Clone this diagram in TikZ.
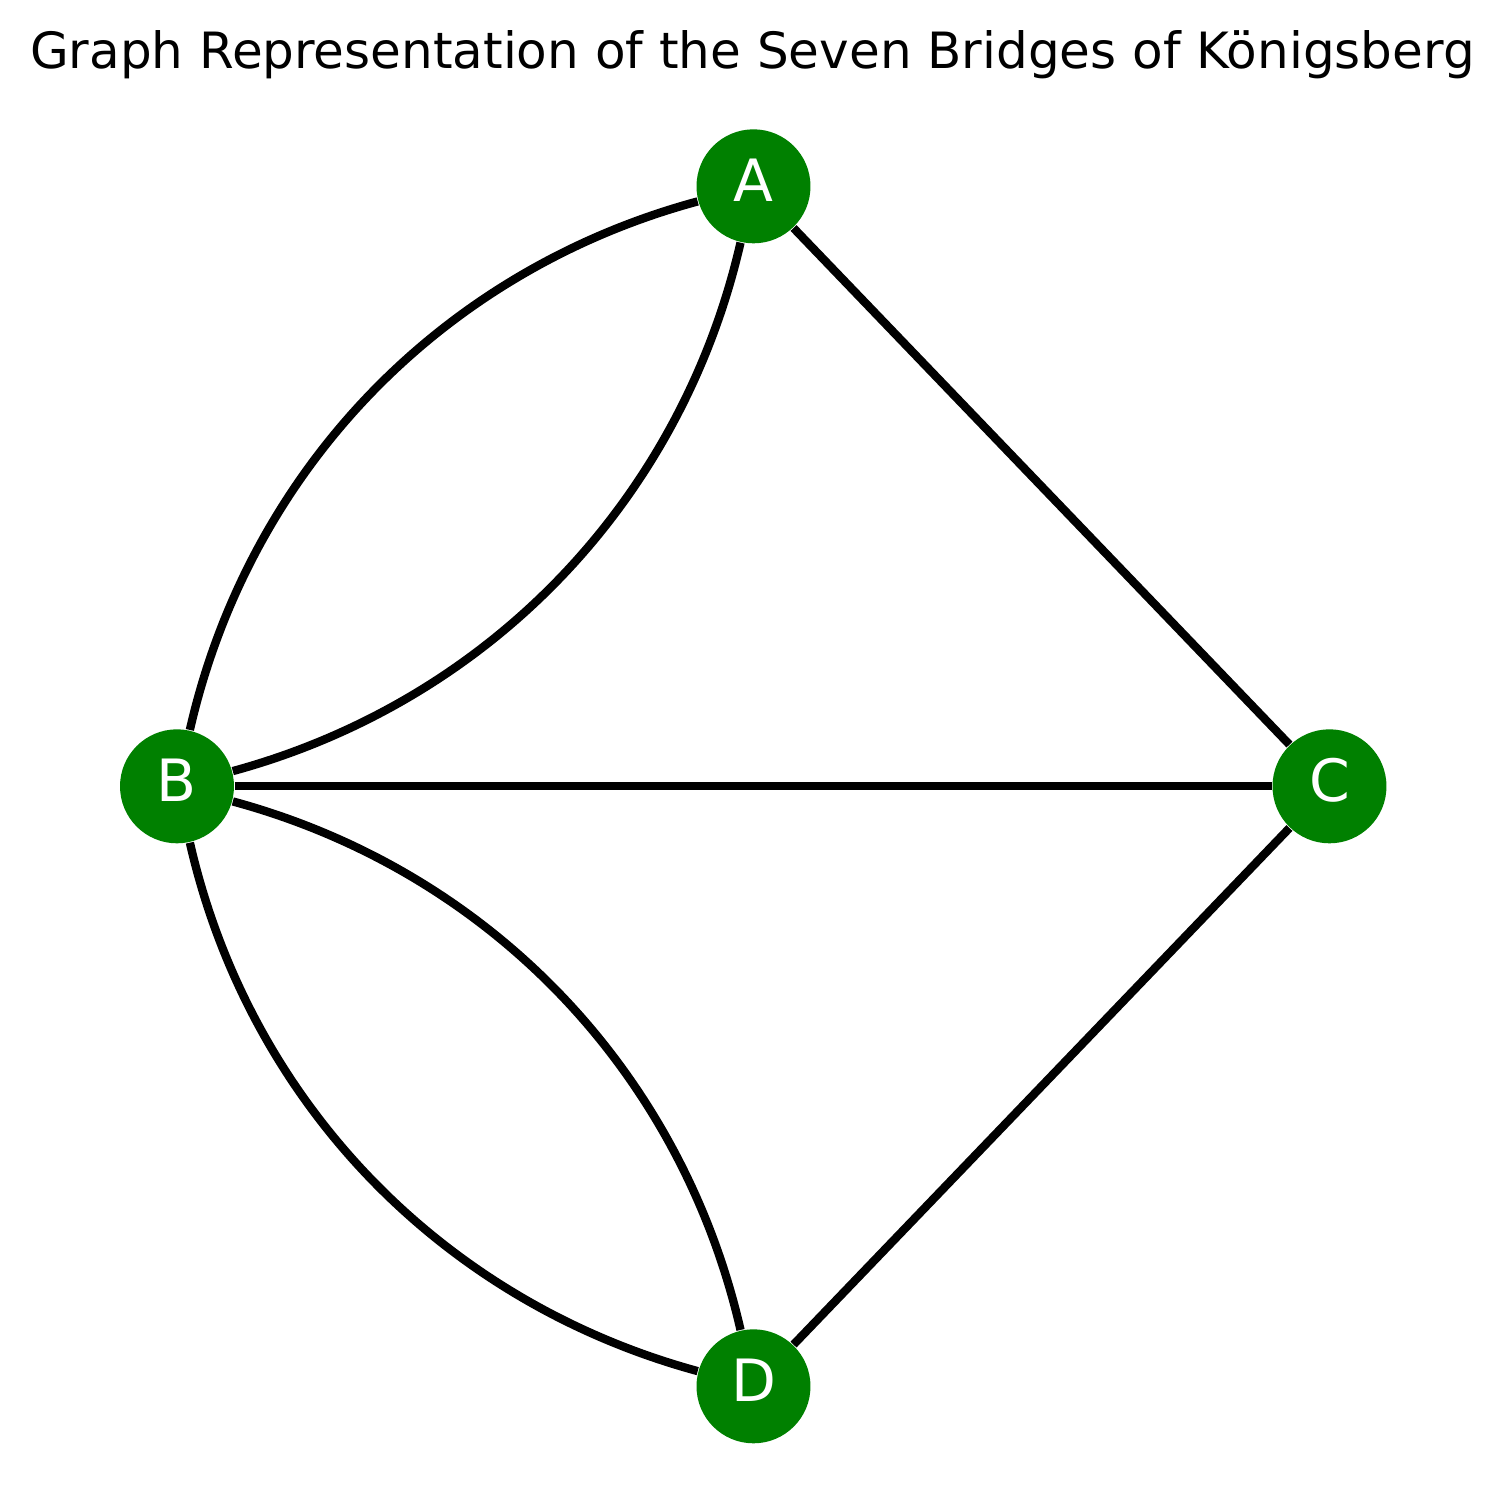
\documentclass[tikz,border=0pt]{standalone}
\usepackage{fontspec}
\setmainfont{DejaVu Sans}
\usetikzlibrary{backgrounds}
\definecolor{mplgreen}{RGB}{0,128,0}
\begin{document}
\begin{tikzpicture}[x=0.24pt,y=-0.24pt,
  vertex/.style={circle,fill=mplgreen,draw=none,minimum size=27.36pt,inner sep=0pt,
    text=white,font=\fontsize{14}{16}\selectfont,text height=10.2pt,text depth=2.7pt},
  edge/.style={line width=2pt,black},
  titletext/.style={font=\fontsize{12}{14}\selectfont,anchor=base,inner sep=0pt}]
\useasboundingbox (0,0) rectangle (1505,1509);
\node[titletext] (title) at (752.5,68) {Graph Representation of the Seven Bridges of Königsberg};
\node[vertex] (A) at (753.5,186.3) {A};
\node[vertex] (B) at (177,786.3) {B};
\node[vertex] (C) at (1329.5,786.3) {C};
\node[vertex] (D) at (753.5,1386.3) {D};
\begin{scope}[on background layer]
\draw[edge] (A) .. controls (441,270.8) and (249,470.8) .. (B);
\draw[edge] (A) .. controls (681,501.2) and (489,701.2) .. (B);
\draw[edge] (A) -- (C);
\draw[edge] (B) -- (C);
\draw[edge] (B) .. controls (489,870.8) and (681,1070.8) .. (D);
\draw[edge] (B) .. controls (249,1101.2) and (441,1301.2) .. (D);
\draw[edge] (C) -- (D);
\end{scope}
\end{tikzpicture}
\end{document}
